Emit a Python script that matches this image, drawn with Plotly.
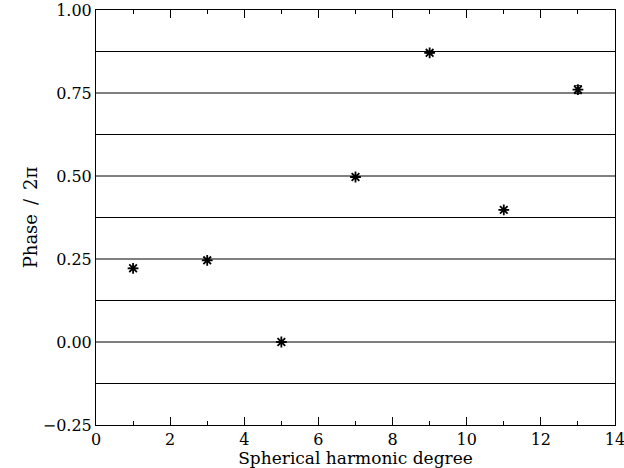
import plotly.graph_objects as go

degree = [1, 3, 5, 7, 9, 11, 13]
phase = [0.222, 0.246, 0.000, 0.497, 0.871, 0.398, 0.760]
phase_err = [0.0, 0.0, 0.0, 0.0, 0.0, 0.0, 0.012]
grid_levels = [-0.125, 0.0, 0.125, 0.25, 0.375, 0.5, 0.625, 0.75, 0.875]
ytick_vals = [-0.25, 0.0, 0.25, 0.5, 0.75, 1.0]
ytick_text = ["\u22120.25", "0.00", "0.25", "0.50", "0.75", "1.00"]

FONT = "DejaVu Serif"

fig = go.Figure()
fig.add_trace(go.Scatter(
    x=degree, y=phase, mode="markers",
    marker=dict(symbol="asterisk-open", size=9, color="black",
                line=dict(color="black", width=1.8)),
    error_y=dict(type="data", array=phase_err, visible=True,
                 color="black", thickness=1, width=4),
    showlegend=False,
))

for g in grid_levels:
    fig.add_shape(type="line", xref="paper", x0=0, x1=1, yref="y", y0=g, y1=g,
                  line=dict(color="black", width=1), layer="below")

fig.update_layout(
    width=624, height=468,
    margin=dict(l=96, r=9, t=10, b=43, autoexpand=False),
    paper_bgcolor="white", plot_bgcolor="white",
    font=dict(family=FONT, size=16, color="black"),
)
fig.update_xaxes(
    range=[0, 14], tickvals=[0, 2, 4, 6, 8, 10, 12, 14],
    ticks="inside", ticklen=8, tickwidth=1, tickcolor="black",
    minor=dict(tickvals=[1, 3, 5, 7, 9, 11, 13], ticks="inside", ticklen=4,
               tickcolor="black", tickwidth=1),
    showline=True, linecolor="black", linewidth=1, mirror="ticks",
    showgrid=False, zeroline=False, automargin=False,
    ticklabeloverflow="allow",
    title=dict(text="Spherical harmonic degree", font=dict(size=17), standoff=1),
    tickfont=dict(size=16), ticklabelstandoff=0,
)
fig.update_yaxes(
    range=[-0.25, 1.0], tickvals=ytick_vals, ticktext=ytick_text,
    ticks="", showline=True, linecolor="black", linewidth=1, mirror=True,
    showgrid=False, zeroline=False, automargin=False,
    ticklabeloverflow="allow",
    title=dict(text="Phase\u2002/\u20022\u03c0", font=dict(size=18), standoff=0),
    tickfont=dict(size=16), ticklabelstandoff=0,
)

fig.write_html("out.html", config={"displayModeBar": False},
               post_script="document.body.style.margin='0';")
